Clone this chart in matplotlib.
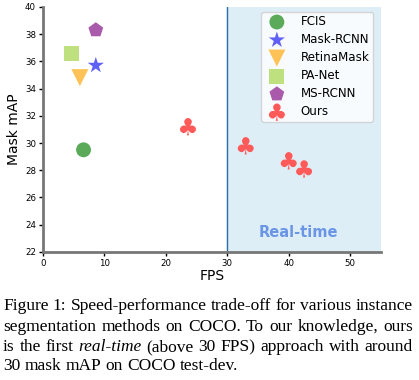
import numpy as np
import matplotlib
matplotlib.use('Agg')
import matplotlib.pyplot as plt

# data
methods = ['FCIS', 'Mask-RCNN', 'RetinaMask', 'PA-Net', 'MS-RCNN']
fps = [6.6, 8.6, 6.0, 4.7, 8.6]
mask_map = [29.5, 35.7, 34.8, 36.6, 38.3]
ours_fps = [23.6, 33.0, 40.0, 42.5]
ours_map = [31.2, 29.8, 28.7, 28.1]

markers = ['o', '*', 'v', 's', 'p']
colors = ['#5aaa5a', '#6060f8', '#ffc257', '#bfe07f', '#aa5aaa']
sizes = [115, 150, 150, 115, 125]

fig = plt.figure(figsize=(4.19, 3.80), dpi=100)
ax = fig.add_axes([0.1026, 0.337, 0.8064, 0.645])

ax.axvspan(30, 55, color='#deeef6', zorder=0)
ax.axvline(30, color='#2a6fa8', lw=1, zorder=1)

for m, x, y, mk, c, s in zip(methods, fps, mask_map, markers, colors, sizes):
    ax.scatter(x, y, marker=mk, s=s, color=c, label=m, zorder=3, edgecolors='none')
ax.scatter(ours_fps, ours_map, marker=r'$\clubsuit$', s=155, color='#ff5a5a',
           label='Ours', zorder=3, edgecolors='none')

ax.text(41.5, 23.4, 'Real-time', color='#6b96e6', fontsize=10.5, fontweight='bold',
        ha='center', va='center')

ax.set_xlim(0, 55)
ax.set_ylim(22, 40)
ax.set_xticks([0, 10, 20, 30, 40, 50])
ax.set_yticks(np.arange(22, 41, 2))
ax.tick_params(labelsize=6.2, length=3, width=1, pad=2, colors='black')
ax.set_xlabel('FPS', fontsize=10, labelpad=1)
ax.set_ylabel('Mask mAP', fontsize=10, labelpad=3)
for side in ['top', 'right']:
    ax.spines[side].set_visible(False)
for side in ['left', 'bottom']:
    ax.spines[side].set_color('#777777')
    ax.spines[side].set_linewidth(2)

leg = ax.legend(loc='upper right', fontsize=8.6, frameon=True, borderpad=0.3,
                labelspacing=0.42, handletextpad=1.0, bbox_to_anchor=(0.995, 1.005))
leg.get_frame().set_edgecolor('#cccccc')
leg.get_frame().set_facecolor('white')

# caption, justified by spreading the words
serif = 'Liberation Serif'
cap_size = 12.5
lines = [
    [('Figure 1: Speed-performance trade-off for various instance', 'normal')],
    [('segmentation methods on COCO. To our knowledge, ours', 'normal')],
    [('is the first', 'normal'), ('real-time', 'italic'),
     ('(above 30 FPS) approach with around', 'normal')],
    [('30 mask mAP on COCO test-dev.', 'normal')],
]
justify = [True, True, True, False]
ys = [1 - 310 / 380, 1 - 331 / 380, 1 - 351 / 380, 1 - 370 / 380]
x0, x1 = 3, 413
fig.canvas.draw()
r = fig.canvas.get_renderer()
for parts, y, just in zip(lines, ys, justify):
    words = []
    for txt, style in parts:
        words += [(w, style) for w in txt.split(' ')]
    objs = []
    widths = []
    for w, style in words:
        t = fig.text(0, y, w, family=serif, style=style, fontsize=cap_size,
                     ha='left', va='baseline')
        objs.append(t)
        widths.append(t.get_window_extent(renderer=r).width)
    if just:
        gap = (x1 - x0 - sum(widths)) / (len(words) - 1)
    else:
        gap = cap_size * 100 / 72 * 0.25
    x = x0
    for t, w in zip(objs, widths):
        t.set_x(x / 419)
        x += w + gap

fig.savefig('out.png', dpi=100)
